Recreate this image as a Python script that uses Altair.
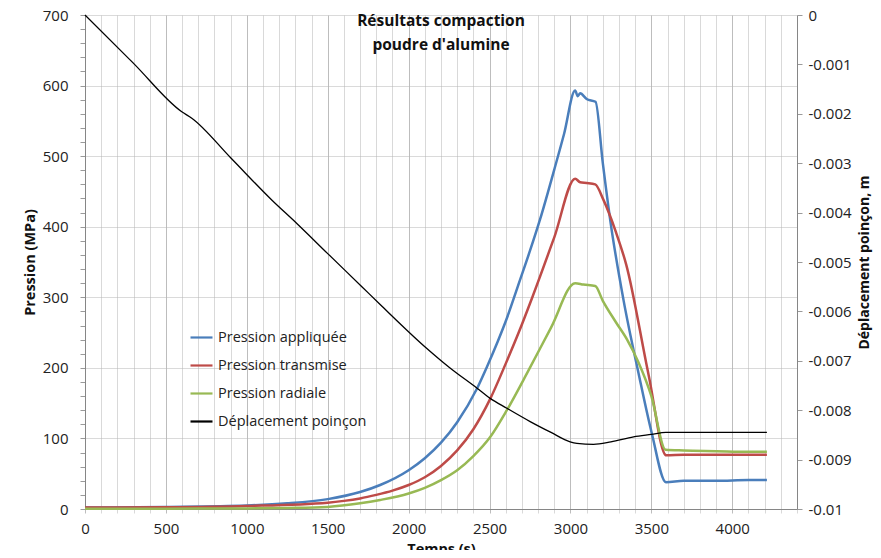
import altair as alt
import pandas as pd

# --- data ---
t_app = [0, 500, 1000, 1250, 1500, 1700, 1824, 2000, 2100, 2200, 2300, 2421, 2483, 2550, 2600, 2689, 2750, 2813, 2900, 2960, 3029, 3045, 3060, 3100, 3155, 3200, 3246, 3328, 3421, 3503, 3590, 3700, 3900, 4100, 4214]
p_app = [2, 3, 5, 8, 14, 24, 34, 55, 72, 94, 123, 170, 201, 237, 266, 325, 366, 411, 481, 531, 593, 585, 589, 581, 577, 490, 409, 296, 192, 107, 38, 40, 40, 41, 41]

t_tra = [0, 500, 1000, 1500, 1600, 1700, 1800, 1900, 2000, 2100, 2200, 2300, 2400, 2504, 2600, 2680, 2761, 2900, 3029, 3060, 3100, 3153, 3204, 3280, 3345, 3483, 3592, 3700, 3900, 4100, 4214]
p_tra = [2, 2.5, 4.3, 9, 11.5, 15, 20, 26, 34, 45, 61, 83, 113, 156, 206, 250, 298, 385, 468, 463, 462, 460, 438, 393, 346, 190, 76, 77, 77, 77, 77]

t_rad = [0, 500, 1000, 1250, 1500, 1700, 1824, 2000, 2100, 2200, 2300, 2400, 2504, 2607, 2740, 2880, 3029, 3080, 3153, 3200, 3280, 3350, 3420, 3500, 3588, 3700, 3900, 4100, 4214]
p_rad = [0.5, 0.5, 0.8, 1.5, 3, 8, 12.8, 22, 30, 41, 55, 75, 102, 140, 196, 257, 320, 318, 316, 295, 265, 240, 208, 160, 84, 83, 82, 81, 81]

t_dep = [0, 300, 598, 660, 900, 1154, 1309, 1500, 1711, 1824, 2102, 2250, 2421, 2504, 2607, 2751, 2880, 2998, 3040, 3143, 3250, 3390, 3500, 3590, 3700, 3900, 4100, 4214]
d_dep = [0, -0.00098, -0.00196, -0.00209, -0.00289, -0.003745, -0.00422, -0.00483, -0.0055, -0.00586, -0.00672, -0.00713, -0.00755, -0.00776, -0.00796, -0.00823, -0.00845, -0.00864, -0.00867, -0.00869, -0.00864, -0.00854, -0.00849, -0.00845, -0.00845, -0.00845, -0.00845, -0.00845]

series = ["Pression appliquée", "Pression transmise", "Pression radiale", "Déplacement poinçon"]
colors = ["#4a7ebb", "#be4b48", "#98b954", "#000000"]

x_ticks = list(range(0, 4401, 100))
p_ticks = list(range(0, 701, 20))
d_ticks = [round(-i * 0.001, 3) for i in range(11)]

FONT = "Open Sans"

rows = []
for name, ts, vs in [(series[0], t_app, p_app), (series[1], t_tra, p_tra), (series[2], t_rad, p_rad)]:
    for i, (a, b) in enumerate(zip(ts, vs)):
        rows.append({"t": a, "P": b, "serie": name, "o": i})
df_p = pd.DataFrame(rows)
df_d = pd.DataFrame({"t": t_dep, "d": d_dep, "serie": series[3], "o": list(range(len(t_dep)))})

legend = alt.Legend(orient="none", legendX=104, legendY=310, title=None,
                    symbolType="stroke", symbolSize=484, symbolStrokeWidth=2.2,
                    labelFont=FONT, labelFontSize=14.5, labelColor="#222222", rowPadding=9,
                    labelOffset=4, padding=0)
color = alt.Color("serie:N", scale=alt.Scale(domain=series, range=colors), legend=legend)

x_axis = alt.Axis(values=x_ticks, format="d", grid=True, labelOverlap=False, labelFlush=False,
                  labelExpr="datum.value % 500 === 0 ? datum.label : ''",
                  gridColor={"condition": {"test": "datum.value % 500 === 0", "value": "#bdbdbd"}, "value": "#d9d9d9"},
                  tickColor={"condition": {"test": "datum.value % 500 === 0", "value": "#bdbdbd"}, "value": "#d9d9d9"},
                  tickSize=4, domainColor="#868686", labelFont=FONT, labelFontSize=15,
                  labelColor="#222222", labelPadding=8,
                  title="Temps (s)", titleFont=FONT, titleFontSize=14.5, titleFontWeight="bold",
                  titleBaseline="top", titleY=33, titleColor="#111111")
x_scale = alt.Scale(domain=[0, 4400], nice=False, zero=False)

pressure = alt.Chart(df_p).mark_line(strokeWidth=2.5, interpolate="monotone").encode(
    x=alt.X("t:Q", scale=x_scale, axis=x_axis),
    y=alt.Y("P:Q", scale=alt.Scale(domain=[0, 700], nice=False),
            axis=alt.Axis(values=p_ticks, format="d", grid=True, labelOverlap=False,
                          labelExpr="datum.value % 100 === 0 ? datum.label : ''",
                          gridOpacity={"condition": {"test": "datum.value % 100 !== 0", "value": 0}, "value": 1},
                          gridColor="#b4b4b4", gridDash=[1, 1],
                          tickSize=5, tickColor="#9a9a9a", domainColor="#868686",
                          labelFont=FONT, labelFontSize=15, labelColor="#222222", labelPadding=12,
                          title="Pression (MPa)", titleFont=FONT, titleFontSize=14.5,
                          titleFontWeight="bold", titlePadding=5, titleColor="#111111")),
    color=color,
    order="o:Q",
)

displacement = alt.Chart(df_d).mark_line(strokeWidth=1.3, interpolate="monotone").encode(
    x=alt.X("t:Q", scale=x_scale, axis=x_axis),
    y=alt.Y("d:Q", scale=alt.Scale(domain=[-0.01, 0], nice=False, zero=False),
            axis=alt.Axis(orient="right", values=d_ticks, grid=False, labelOverlap=False,
                          labelExpr="replace(format(datum.value, '.3~f'), '\u2212', '-')",
                          tickSize=5, tickColor="#9a9a9a", domainColor="#868686",
                          labelFont=FONT, labelFontSize=15, labelColor="#222222", labelPadding=6,
                          title="Déplacement poinçon, m", titleFont=FONT, titleFontSize=14,
                          titleFontWeight="bold", titleAngle=270, titlePadding=20, titleColor="#111111")),
    color=color,
    order="o:Q",
)

chart = alt.layer(pressure, displacement).resolve_scale(y="independent").properties(
    width=712, height=494,
    autosize=alt.AutoSizeParams(type="none"),
    padding={"left": 77, "top": 7, "right": 76, "bottom": 41},
    title=alt.TitleParams(text=["Résultats compaction", "poudre d'alumine"], font=FONT,
                          fontSize=15.5, fontWeight="bold", color="#111111", anchor="middle",
                          baseline="top", lineHeight=24, offset=-45),
    background="white",
).configure_view(stroke="transparent")

chart.save("out.html", embed_options={"renderer": "svg", "actions": False})
